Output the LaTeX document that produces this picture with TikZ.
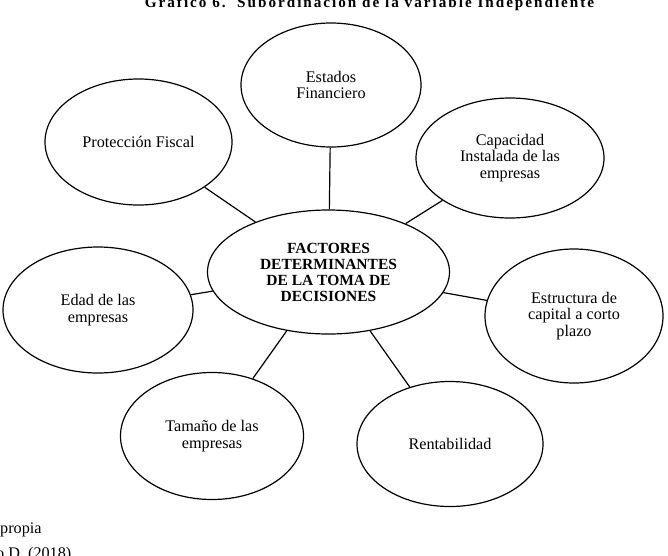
\documentclass[tikz,border=0pt]{standalone}
\usepackage{fontspec}
\setmainfont{Liberation Serif}
\usepackage{tikz}
\usetikzlibrary{shapes.geometric, positioning}

\begin{document}
\begin{tikzpicture}[x=1pt, y=-1pt,
    factor/.style={draw, ellipse, line width=1.2pt, inner sep=0pt, align=center, font=\fontsize{16.2}{16.8}\selectfont},
    link/.style={line width=1.2pt}]
    \clip (0,0) rectangle (668,555);
    \useasboundingbox (0,0) rectangle (668,555);
    \node[anchor=base, inner sep=0pt, font=\bfseries\fontsize{15.2}{17}\selectfont\addfontfeature{LetterSpace=13}] (titulo) at (369.5,7.5) {Gráfico 6.~~Subordinación de la variable Independiente};
    \node[factor, minimum width=242pt, minimum height=124pt, font=\bfseries\fontsize{15.5}{16}\selectfont] (centro) at (328.5,272) {FACTORES\\DETERMINANTES\\DE LA TOMA DE\\DECISIONES};
    \node[factor, minimum width=180pt, minimum height=124pt] (estados) at (331,85) {Estados\\Financiero};
    \node[factor, minimum width=188pt, minimum height=120pt] (capacidad) at (510,158) {Capacidad\\Instalada de las\\empresas};
    \node[factor, minimum width=187pt, minimum height=126pt] (proteccion) at (138.5,142) {Protección Fiscal};
    \node[factor, minimum width=190pt, minimum height=126pt] (edad) at (98,310) {Edad de las\\empresas};
    \node[factor, minimum width=178pt, minimum height=134pt] (estructura) at (574,316) {Estructura de\\capital a corto\\plazo};
    \node[factor, minimum width=183pt, minimum height=127pt] (tamano) at (212,436) {Tamaño de las\\empresas};
    \node[factor, minimum width=186pt, minimum height=125pt] (rentabilidad) at (450,444) {Rentabilidad};
    \draw[link] (centro) -- (estados);
    \draw[link] (centro) -- (capacidad);
    \draw[link] (centro) -- (proteccion);
    \draw[link] (centro) -- (edad);
    \draw[link] (centro) -- (estructura);
    \draw[link] (centro) -- (tamano);
    \draw[link] (centro) -- (rentabilidad);
    \node[anchor=base west, inner sep=0pt, font=\fontsize{16.2}{17}\selectfont] (fuente) at (0,533) {propia};
    \node[anchor=base west, inner sep=0pt, font=\fontsize{16.2}{17}\selectfont] (autor) at (-4,558) {o D. (2018)};
\end{tikzpicture}
\end{document}
